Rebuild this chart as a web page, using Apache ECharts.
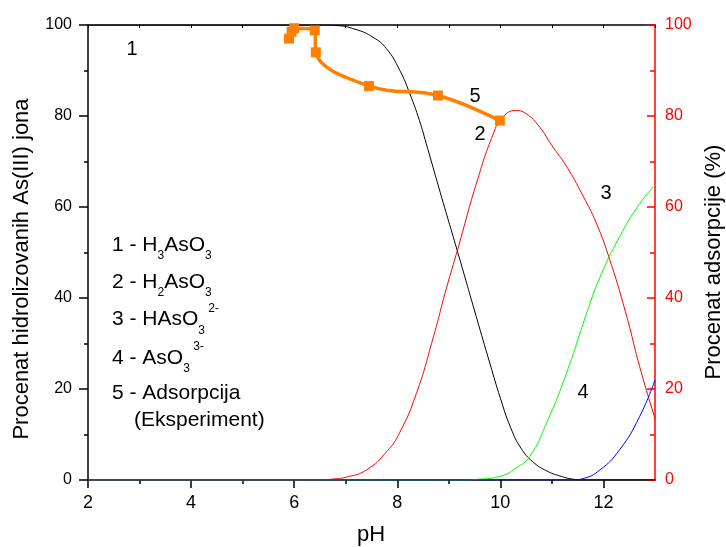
<!DOCTYPE html>
<html>
<head>
<meta charset="utf-8">
<script src="https://cdn.jsdelivr.net/npm/echarts@6/dist/echarts.min.js"></script>
<style>
html,body{margin:0;padding:0;background:#fff;}
#chart{width:726px;height:547px;}
</style>
</head>
<body>
<div id="chart"></div>
<script>
// ---- data ----
const xTicksMajor = [2, 4, 6, 8, 10, 12];
const xTicksMinor = [3, 5, 7, 9, 11];

// 1 - H3AsO3 (left axis, %)
const pH1 = [2, 6.5, 6.8, 7.2, 7.53, 7.79, 8.05, 8.24, 8.43, 8.56, 8.89, 9.2, 9.53, 9.8, 10.0, 10.2, 10.4, 10.63, 10.9, 11.15, 11.4, 11.6, 13];
const v1  = [100, 100, 99.9, 99, 97.3, 94.8, 90, 85, 79, 74, 61, 49, 36, 25.5, 18, 11.5, 7, 4.0, 2.0, 0.9, 0.2, 0, 0];

// 2 - H2AsO3
const pH2 = [2, 6.0, 6.5, 6.75, 7.0, 7.4, 7.8, 8.05, 8.37, 8.69, 8.95, 9.18, 9.53, 9.86, 10.05, 10.31, 10.5, 10.76, 11.0, 11.28, 11.6, 11.86, 12.12, 12.45, 12.7, 13];
const v2  = [0, 0, 0.05, 0.2, 0.6, 2.2, 6.3, 10.5, 19, 31, 42, 51, 65, 76, 79.8, 81.2, 80.5, 77.6, 73.5, 69, 62.5, 56.5, 48.5, 36, 25, 13.5];

// 3 - HAsO3 2-
const pH3 = [2, 9.3, 9.5, 9.99, 10.3, 10.57, 10.89, 11.28, 11.67, 11.93, 12.31, 12.7, 13];
const v3  = [0, 0, 0.1, 0.8, 2.6, 5.2, 12.4, 23.4, 36.5, 44.5, 53.4, 60.7, 64.8];

// 4 - AsO3 3-
const pH4 = [2, 11.4, 11.6, 11.93, 12.31, 12.7, 13];
const v4  = [0, 0, 0.3, 2.2, 6.6, 13.9, 22];

// 5 - Adsorpcija (Eksperiment), right axis %
const pH5 = [5.9, 5.95, 6.0, 6.4, 6.42, 7.45, 8.79, 9.99];
const v5  = [97, 98.5, 99.3, 98.8, 94, 86.6, 84.5, 79];

// ---- helpers ----
const zip = (xs, ys) => xs.map((x, i) => [x, ys[i]]);
const FONT = 'Liberation Sans, Arial, sans-serif';

const chart = echarts.init(document.getElementById('chart'), null, {renderer: 'canvas'});

const lineSeries = (name, xs, ys, color) => ({
  name: name,
  type: 'line',
  xAxisIndex: 0,
  yAxisIndex: 0,
  data: zip(xs, ys),
  showSymbol: false,
  symbol: 'none',
  smooth: 0.5,
  lineStyle: {color: color, width: 1},
  itemStyle: {color: color},
  silent: true
});

const rich = {
  n:   {fontSize: 21, fontFamily: FONT, lineHeight: 34, fill: '#000'},
  sub: {fontSize: 12, fontFamily: FONT, lineHeight: 12, verticalAlign: 'bottom', fill: '#000'},
  sup: {fontSize: 12, fontFamily: FONT, lineHeight: 12, verticalAlign: 'top', fill: '#000'}
};

const legendLine = (txt, x, y) => ({
  type: 'text', x: x, y: y, silent: true,
  style: {text: txt, rich: rich, align: 'left', verticalAlign: 'middle', fontSize: 21, fontFamily: FONT, fill: '#000'}
});

const label = (txt, x, y) => ({
  type: 'text', x: x, y: y, silent: true,
  style: {text: txt, fontSize: 20, fontFamily: FONT, fill: '#000', align: 'center', verticalAlign: 'middle'}
});

const option = {
  backgroundColor: '#fff',
  animation: false,
  grid: {left: 88, right: 71, top: 25, bottom: 67, containLabel: false},
  xAxis: [
    { // main bottom axis: major ticks + labels
      type: 'value', position: 'bottom', min: 2, max: 13,
      axisLine: {show: true, onZero: false, lineStyle: {color: '#000', width: 1.5}},
      axisTick: {show: true, inside: false, length: 8, customValues: xTicksMajor, lineStyle: {color: '#000', width: 1.5}},
      axisLabel: {show: true, customValues: xTicksMajor, margin: 14, fontSize: 18, fontFamily: FONT, color: '#000'},
      splitLine: {show: false}
    },
    { // bottom minor ticks
      type: 'value', position: 'bottom', min: 2, max: 13,
      axisLine: {show: false, onZero: false},
      axisTick: {show: true, inside: false, length: 4, customValues: xTicksMinor, lineStyle: {color: '#000', width: 1.5}},
      axisLabel: {show: false},
      splitLine: {show: false}
    },
    { // top border axis with small inward ticks
      type: 'value', position: 'top', min: 2, max: 13, interval: 1,
      axisLine: {show: true, onZero: false, lineStyle: {color: '#000', width: 1.5}},
      axisTick: {show: true, inside: true, length: 3, lineStyle: {color: '#000', width: 1}},
      axisLabel: {show: false},
      splitLine: {show: false}
    }
  ],
  yAxis: [
    {
      type: 'value', position: 'left', min: 0, max: 100, interval: 20,
      axisLine: {show: true, onZero: false, lineStyle: {color: '#000', width: 1.5}},
      axisTick: {show: true, inside: false, length: 9, lineStyle: {color: '#000', width: 1.5}},
      minorTick: {show: true, splitNumber: 2, length: 4, lineStyle: {color: '#000', width: 1.5}},
      axisLabel: {margin: 16, fontSize: 16, fontFamily: FONT, color: '#000'},
      splitLine: {show: false}
    },
    {
      type: 'value', position: 'right', min: 0, max: 100, interval: 20,
      axisLine: {show: true, onZero: false, lineStyle: {color: '#ff0000', width: 1.5}},
      axisTick: {show: true, inside: true, length: 8, lineStyle: {color: '#ff0000', width: 1.5}},
      minorTick: {show: true, splitNumber: 2, length: 5, lineStyle: {color: '#ff0000', width: 1.5}},
      axisLabel: {margin: 10, fontSize: 16, fontFamily: FONT, color: '#ff0000'},
      splitLine: {show: false}
    }
  ],
  series: [
    lineSeries('1 - H3AsO3', pH1, v1, '#000000'),
    lineSeries('2 - H2AsO3', pH2, v2, '#ff0000'),
    lineSeries('3 - HAsO3 2-', pH3, v3, '#00ff00'),
    lineSeries('4 - AsO3 3-', pH4, v4, '#0000ff'),
    {
      name: '5 - Adsorpcija',
      type: 'line',
      xAxisIndex: 0,
      yAxisIndex: 1,
      data: zip(pH5, v5),
      smooth: 0.4,
      symbol: 'rect',
      symbolSize: 10,
      showSymbol: true,
      lineStyle: {color: '#ff8000', width: 3.5},
      itemStyle: {color: '#ff8000'},
      z: 5,
      silent: true
    }
  ],
  graphic: [
    label('1', 132, 49),
    label('5', 475, 96),
    label('2', 480, 134),
    label('3', 606, 193),
    label('4', 583, 392),
    legendLine('{n|1 - H}{sub|3}{n|AsO}{sub|3}', 112, 245),
    legendLine('{n|2 - H}{sub|2}{n|AsO}{sub|3}', 112, 282),
    legendLine('{n|3 - HAsO}{sub|3}{sup| 2-}', 112, 319.5),
    legendLine('{n|4 - AsO}{sub|3}{sup| 3-}', 112, 358),
    legendLine('{n|5 - Adsorpcija}', 112, 393),
    legendLine('{n|(Eksperiment)}', 134, 420),
    {
      type: 'text', x: 22, y: 269, rotation: Math.PI / 2, silent: true,
      style: {text: 'Procenat hidrolizovanih As(III) jona', fontSize: 22, fontFamily: FONT, fill: '#000', align: 'center', verticalAlign: 'middle'}
    },
    {
      type: 'text', x: 714, y: 262, rotation: Math.PI / 2, silent: true,
      style: {text: 'Procenat adsorpcije (%)', fontSize: 22, fontFamily: FONT, fill: '#000', align: 'center', verticalAlign: 'middle'}
    },
    {
      type: 'text', x: 371, y: 535, silent: true,
      style: {text: 'pH', fontSize: 22, fontFamily: FONT, fill: '#000', align: 'center', verticalAlign: 'middle'}
    }
  ]
};

chart.setOption(option);
</script>
</body>
</html>
